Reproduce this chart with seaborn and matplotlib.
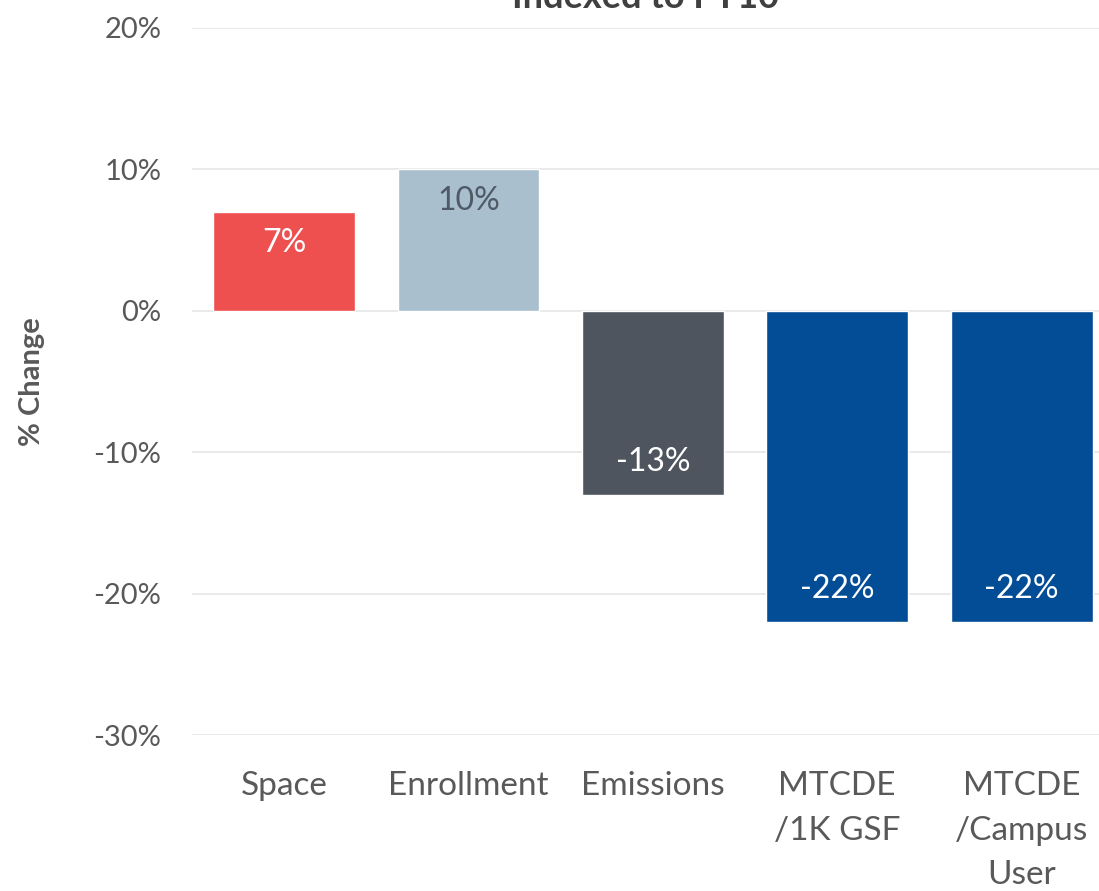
import matplotlib
matplotlib.use("Agg")
import matplotlib.pyplot as plt
import pandas as pd
import seaborn as sns

# data
categories = ["Space", "Enrollment", "Emissions", "MTCDE\n/1K GSF", "MTCDE\n/Campus\nUser"]
pct_change = [7, 10, -13, -22, -22]
bar_colors = ["#EE5050", "#A9BFCD", "#4E555E", "#034C96", "#034C96"]
label_colors = ["white", "#4E5A66", "white", "white", "white"]
y_ticks = [-30, -20, -10, 0, 10, 20]

sns.set_theme(style="white")
plt.rcParams["font.family"] = ["Lato", "DejaVu Sans"]

df = pd.DataFrame({"category": categories, "change": pct_change})

fig = plt.figure(figsize=(10.99, 8.91), dpi=100)
ax = fig.add_axes([192 / 1099, 1 - 735 / 891, 1 - 192 / 1099, (735 - 28) / 891])

sns.barplot(data=df, x="category", y="change", hue="category", palette=bar_colors,
            legend=False, width=0.77, saturation=1, ax=ax)

ax.set_ylim(-30, 20)
ax.set_xlim(-0.5, 4.42)
ax.set_yticks(y_ticks)
ax.set_yticklabels([f"{t}%" for t in y_ticks])
ax.yaxis.grid(True, color="#E6E6E6", linewidth=1.2)
ax.set_axisbelow(True)
for s in ax.spines.values():
    s.set_visible(False)
ax.tick_params(axis="both", length=0, colors="#595959")
ax.tick_params(axis="y", labelsize=21, pad=22)
ax.tick_params(axis="x", labelsize=24, pad=26)
for lab in ax.get_xticklabels():
    lab.set_linespacing(1.6)
ax.set_xlabel("")
ax.set_ylabel("% Change", fontsize=21, fontweight="bold", color="#595959")
ax.yaxis.set_label_coords(-(192 - 45) / 1099 / (1 - 192 / 1099), 0.5)

# value labels inside the bar ends
for i, v in enumerate(pct_change):
    off = 2.2 if v > 0 else -2.3
    ax.text(i, v - off, f"{v}%", ha="center", va="center",
            fontsize=23, color=label_colors[i])

fig.text(0.587, 1 - 8 / 891, "Indexed to FY10", ha="center", va="baseline",
         fontsize=26, fontweight="bold", color="#404040")

fig.savefig("out.png", dpi=100)
